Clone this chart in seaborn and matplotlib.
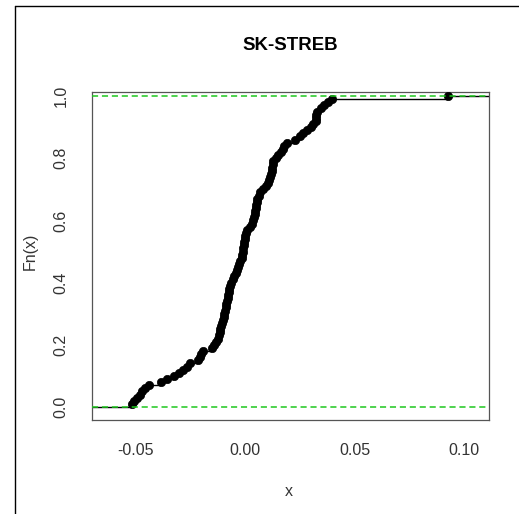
import numpy as np
import pandas as pd
import matplotlib
matplotlib.use("Agg")
import matplotlib.pyplot as plt
from matplotlib.lines import Line2D
import seaborn as sns

# ---- data (sorted sample values, SK-STREB) ----
title = "SK-STREB"
x_label = "x"
y_label = "Fn(x)"
x_ticks = [-0.05, 0.00, 0.05, 0.10]
x_tick_labels = ["-0.05", "0.00", "0.05", "0.10"]
y_ticks = [0.0, 0.2, 0.4, 0.6, 0.8, 1.0]
y_tick_labels = ["0.0", "0.2", "0.4", "0.6", "0.8", "1.0"]

values = [
    -0.0517, -0.0505, -0.0495, -0.0480, -0.0470, -0.0458, -0.0440, -0.0385, -0.0358, -0.0325,
    -0.0300, -0.0285, -0.0265, -0.0250, -0.0215, -0.0208, -0.0200, -0.0192, -0.0150, -0.0140,
    -0.0132, -0.0125, -0.0120, -0.0116, -0.0113, -0.0110, -0.0106, -0.0102, -0.0098, -0.0094,
    -0.0091, -0.0089, -0.0086, -0.0083, -0.0080, -0.0077, -0.0075, -0.0072, -0.0068, -0.0062,
    -0.0056, -0.0050, -0.0043, -0.0038, -0.0033, -0.0027, -0.0021, -0.0016, -0.0013, -0.0010,
    -0.0008, -0.0006, -0.0004, -0.0002, 0.0000, 0.0002, 0.0008, 0.0023, 0.0030, 0.0035,
    0.0040, 0.0045, 0.0047, 0.0049, 0.0051, 0.0053, 0.0056, 0.0062, 0.0070, 0.0082,
    0.0095, 0.0106, 0.0110, 0.0114, 0.0118, 0.0122, 0.0124, 0.0126, 0.0128, 0.0140,
    0.0152, 0.0163, 0.0172, 0.0180, 0.0192, 0.0228, 0.0250, 0.0266, 0.0285, 0.0300,
    0.0312, 0.0322, 0.0324, 0.0326, 0.0330, 0.0345, 0.0362, 0.0378, 0.0396, 0.0928,
]

sns.set_style("white")
plt.rcParams["font.family"] = ["Liberation Sans", "DejaVu Sans"]
plt.rcParams["text.color"] = "black"

xs = np.sort(np.asarray(values))
n = len(xs)
fn = np.arange(1, n + 1) / n
df = pd.DataFrame({"x": xs, "Fn": fn})

W, H = 519, 514
fig = plt.figure(figsize=(W / 100, H / 100), dpi=100)
ax = fig.add_axes([92 / W, 1 - 420 / H, (489 - 92) / W, (420 - 92) / H])

xlim = (-0.0699, 0.1114)
ylim = (-0.0418, 1.0129)
ax.set_xlim(*xlim)
ax.set_ylim(*ylim)

# step segments (horizontal only, as in R's plot.ecdf)
ax.hlines(df["Fn"].values[:-1], df["x"].values[:-1], df["x"].values[1:], color="black", lw=1, zorder=2)
ax.hlines(0, xlim[0], df["x"].values[0], color="black", lw=1, zorder=2)
ax.hlines(1, df["x"].values[-1], xlim[1], color="black", lw=1, zorder=2)

sns.scatterplot(data=df, x="x", y="Fn", ax=ax, color="black", s=36, edgecolor="black",
                linewidth=0.5, zorder=3, legend=False)

for yv in (0, 1):
    ax.axhline(yv, color="#1ec81e", lw=1.1, dashes=(4, 2.5), zorder=4)

ax.set_xticks(x_ticks)
ax.set_xticklabels(x_tick_labels)
ax.set_yticks(y_ticks)
ax.set_yticklabels(y_tick_labels, rotation=90, va="center")
ax.tick_params(axis="both", direction="out", length=7.2, width=0.8, color="#333333",
               labelsize=11.5, labelcolor="#333333", pad=9.5)
ax.set_xlabel("")
ax.set_ylabel("")
for sp in ax.spines.values():
    sp.set_color("#555555")
    sp.set_linewidth(0.9)

fig.text(290 / W, 1 - 45 / H, title, ha="center", va="center", fontsize=13.4,
         fontweight="bold", color="black")
fig.text(289 / W, 1 - 491 / H, x_label, ha="center", va="center", fontsize=11.5, color="#333333")
fig.text(30 / W, 1 - 251 / H, y_label, ha="center", va="center", fontsize=11.5, rotation=90,
         color="#333333")

# outer frame lines (left and top) of the original image
fig.add_artist(Line2D([14.5 / W, 14.5 / W], [0, 1 - 5.5 / H], transform=fig.transFigure,
                      color="black", lw=1))
fig.add_artist(Line2D([14.5 / W, 1], [1 - 5.5 / H, 1 - 5.5 / H], transform=fig.transFigure,
                      color="black", lw=1))

fig.savefig("out.png", dpi=100)
